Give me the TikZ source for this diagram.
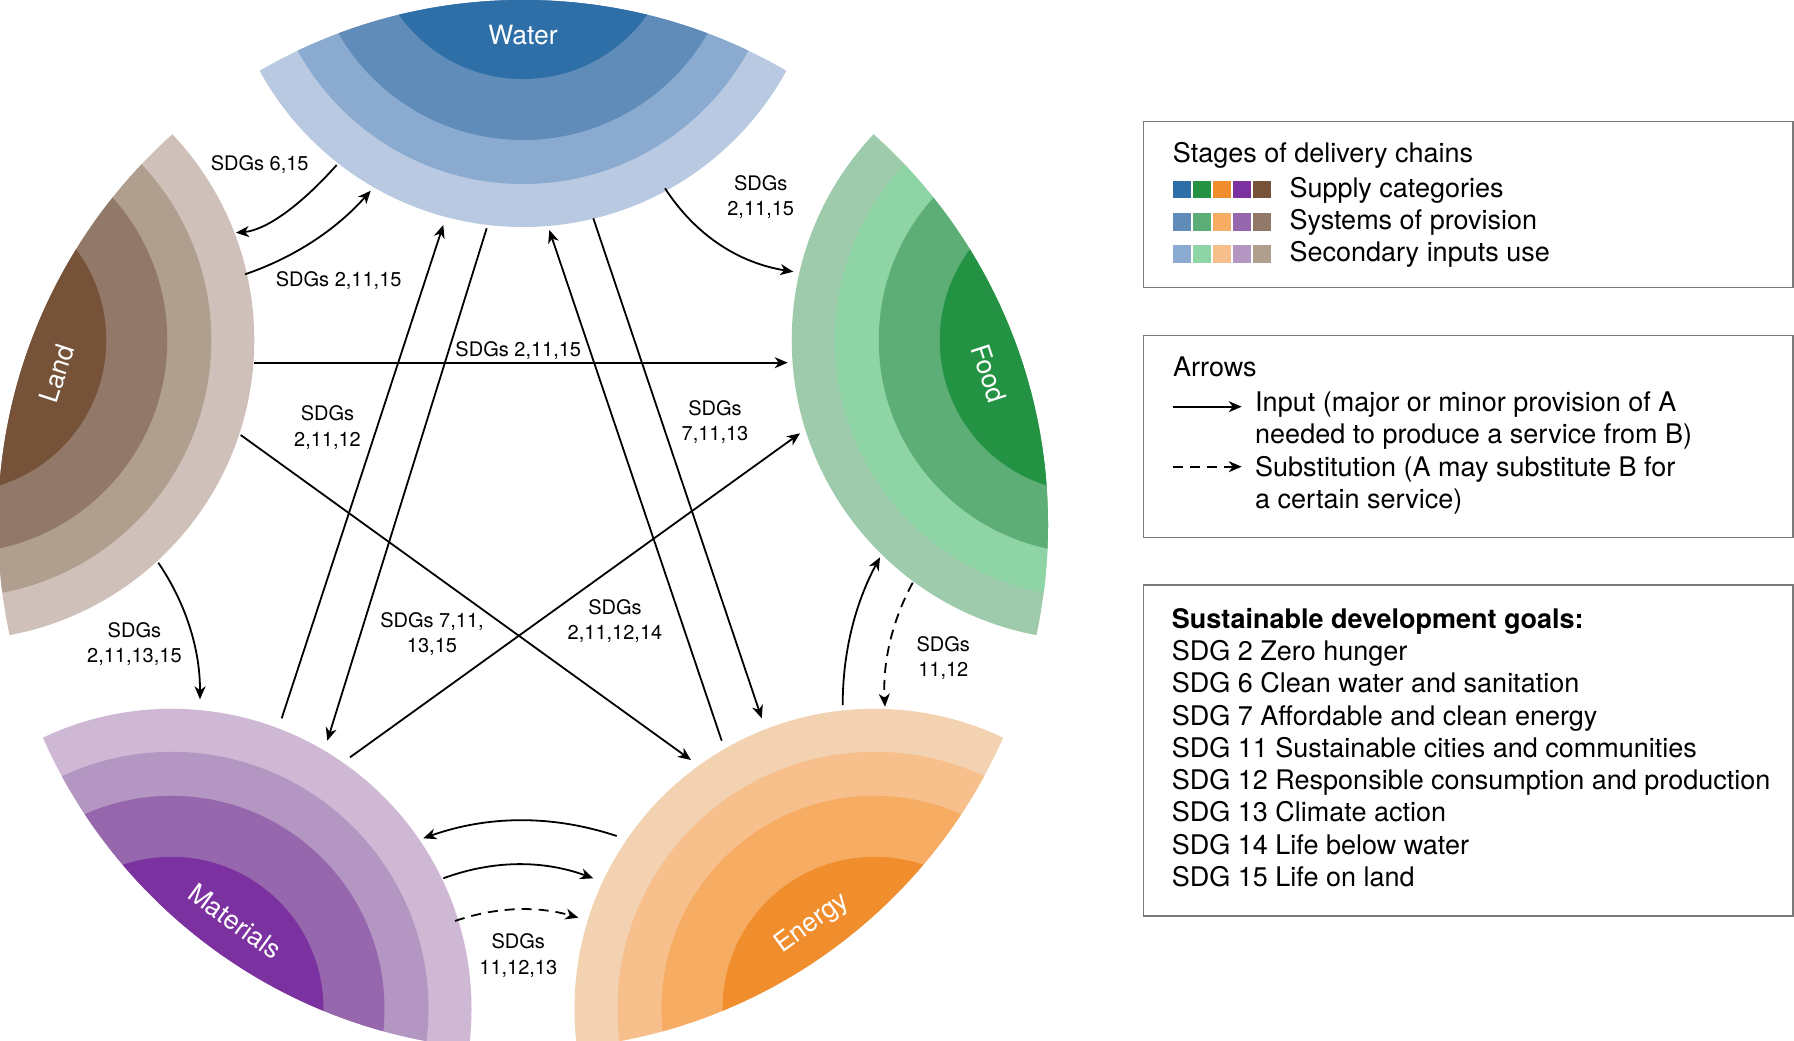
\documentclass[tikz,border=0pt]{standalone}
\usepackage{fontspec}
\setmainfont{TeX Gyre Heros}
\usetikzlibrary{arrows.meta,calc}
\definecolor{WaterA}{HTML}{B8C9E1}
\definecolor{WaterB}{HTML}{8AABCF}
\definecolor{WaterC}{HTML}{5F8CB8}
\definecolor{WaterD}{HTML}{2E6FA8}
\definecolor{FoodA}{HTML}{9DCBAC}
\definecolor{FoodB}{HTML}{8FD4A4}
\definecolor{FoodC}{HTML}{5DAE76}
\definecolor{FoodD}{HTML}{239343}
\definecolor{EnergyA}{HTML}{F2D2B0}
\definecolor{EnergyB}{HTML}{F7BF8C}
\definecolor{EnergyC}{HTML}{F7AC64}
\definecolor{EnergyD}{HTML}{F08D2D}
\definecolor{MatA}{HTML}{CFB8D4}
\definecolor{MatB}{HTML}{B397C2}
\definecolor{MatC}{HTML}{9767AD}
\definecolor{MatD}{HTML}{7B31A0}
\definecolor{LandA}{HTML}{CFC1B9}
\definecolor{LandB}{HTML}{B09E8F}
\definecolor{LandC}{HTML}{917868}
\definecolor{LandD}{HTML}{765338}
\definecolor{boxgray}{HTML}{7A7A7A}
\newcommand{\qarc}[4][arr]{\draw[#1] (#2) .. controls ($(#2)!0.6667!(#3)$) and ($(#4)!0.6667!(#3)$) .. (#4);}
\begin{document}
\begin{tikzpicture}[x=1pt,y=-1pt,
  arr/.style={line width=1.8pt,-{Stealth[length=13pt,width=11pt,inset=4pt]}},
  darr/.style={arr,dash pattern=on 10pt off 7pt},
  lbl/.style={font=\fontsize{20}{25.3}\selectfont,align=center,anchor=base,inner sep=0pt},
  wlbl/.style={text=white,font=\fontsize{26.5}{30}\selectfont,inner sep=0pt,text height=18.9pt,text depth=0pt},
  leg/.style={font=\fontsize{27}{32.3}\selectfont,anchor=base west,inner sep=0pt},
  legbox/.style={draw=boxgray,line width=1.5pt}]
\useasboundingbox (0,0) rectangle (1794,1041);
\clip (0,0) rectangle (1794,1041);
\fill[white] (0,0) rectangle (1794,1041);
\coordinate (O) at (523,525);

% ---------- five wedges ----------
\foreach \nm/\ang/\rot/\col/\txt in {water/-90/0/Water/Water, food/-18/-72/Food/Food, energy/54/36/Energy/Energy, mat/126/-36/Mat/Materials, land/198/72/Land/Land}{
  \coordinate (P-\nm) at ($(O)+(\ang:598)$);
  \begin{scope}
    \clip (O) circle (525);
    \fill[fill=\col A] (P-\nm) circle (300);
    \fill[fill=\col B] (P-\nm) circle (257);
    \fill[fill=\col C] (P-\nm) circle (213);
    \fill[fill=\col D] (P-\nm) circle (152);
  \end{scope}
  \node[wlbl,rotate=\rot] (lab-\nm) at ($(O)+(\ang:490)$) {\txt};
}

% ---------- connector end points ----------
\coordinate (wl-s) at (336.7,165);   \coordinate (wl-q) at (279.5,229);   \coordinate (wl-e) at (236,232.7);
\coordinate (lw-s) at (245,274.3);   \coordinate (lw-q) at (318.9,249.1); \coordinate (lw-e) at (370.7,190.7);
\coordinate (wf-s) at (665,188.3);   \coordinate (wf-q) at (710.6,258.4); \coordinate (wf-e) at (793.3,271.7);
\coordinate (lf-s) at (254,362.7);   \coordinate (lf-e) at (787.7,362.7);
\coordinate (le-s) at (240.7,435);   \coordinate (le-e) at (691,760);
\coordinate (lm-s) at (158.3,562.7); \coordinate (lm-q) at (200.2,624.6); \coordinate (lm-e) at (200,699.3);
\coordinate (mw-s) at (281.7,718.3); \coordinate (mw-e) at (443.3,225);
\coordinate (wm-s) at (486.7,228.3); \coordinate (wm-e) at (327.3,740.7);
\coordinate (mf-s) at (350,757.3);   \coordinate (mf-e) at (800,433.3);
\coordinate (ew-s) at (721.7,740.7); \coordinate (ew-e) at (549.3,230);
\coordinate (we-s) at (593.3,218.3); \coordinate (we-e) at (761.7,718.3);
\coordinate (ef-s) at (842.7,705);   \coordinate (ef-q) at (842.65,626.4); \coordinate (ef-e) at (880,557.3);
\coordinate (fe-s) at (912.7,582.7); \coordinate (fe-q) at (881.3,640.7); \coordinate (fe-e) at (885,706.7);
\coordinate (em-s) at (616.7,836);   \coordinate (em-q) at (520,803.9);   \coordinate (em-e) at (423.3,838.3);
\coordinate (me-s) at (443.3,878.3); \coordinate (me-q) at (518,850.7);   \coordinate (me-e) at (593.3,878.3);
\coordinate (md-s) at (455,921);     \coordinate (md-q) at (516.6,899.7); \coordinate (md-e) at (578.3,917.7);

% ---------- connectors ----------
\qarc{wl-s}{wl-q}{wl-e}
\qarc{lw-s}{lw-q}{lw-e}
\qarc{wf-s}{wf-q}{wf-e}
\qarc{lm-s}{lm-q}{lm-e}
\qarc{ef-s}{ef-q}{ef-e}
\qarc[darr]{fe-s}{fe-q}{fe-e}
\qarc{em-s}{em-q}{em-e}
\qarc{me-s}{me-q}{me-e}
\qarc[darr]{md-s}{md-q}{md-e}
\draw[arr] (lf-s) -- (lf-e);
\draw[arr] (le-s) -- (le-e);
\draw[arr] (mw-s) -- (mw-e);
\draw[arr] (wm-s) -- (wm-e);
\draw[arr] (mf-s) -- (mf-e);
\draw[arr] (ew-s) -- (ew-e);
\draw[arr] (we-s) -- (we-e);

% ---------- connector labels (two-line labels: base = last line) ----------
\node[lbl] (t1) at (259.7,170.7) {SDGs 6,15};
\node[lbl] (t2) at (338.7,286) {SDGs 2,11,15};
\node[lbl] (t3) at (518.3,356.7) {SDGs 2,11,15};
\node[lbl] (t4) at (327.5,446) {SDGs\\2,11,12};
\node[lbl] (t5) at (134.4,662.7) {SDGs\\2,11,13,15};
\node[lbl] (t6) at (432,652.3) {SDGs 7,11,\\13,15};
\node[lbl] (t7) at (615,639.3) {SDGs\\2,11,12,14};
\node[lbl] (t8) at (715,440.7) {SDGs\\7,11,13};
\node[lbl] (t9) at (760.7,215.7) {SDGs\\2,11,15};
\node[lbl] (t10) at (943.3,676.7) {SDGs\\11,12};
\node[lbl] (t11) at (518.3,974) {SDGs\\11,12,13};

% ---------- legend 1 ----------
\draw[legbox] (1143.5,121.7) rectangle (1793,287.7);
\node[leg] (stages) at (1172.7,162.3) {Stages of delivery chains};
\foreach \c [count=\i from 0] in {WaterD,FoodD,EnergyD,MatD,LandD}
  \fill[fill=\c] (1173.3+20*\i,181) rectangle ++(17.3,17.3);
\foreach \c [count=\i from 0] in {WaterC,FoodC,EnergyC,MatC,LandC}
  \fill[fill=\c] (1173.3+20*\i,213.3) rectangle ++(17.3,17.3);
\foreach \c [count=\i from 0] in {WaterB,FoodB,EnergyB,MatB,LandB}
  \fill[fill=\c] (1173.3+20*\i,245.3) rectangle ++(17.3,17.3);
\node[leg] (supply) at (1289.3,197.3) {Supply categories};
\node[leg] (systems) at (1289.3,229.3) {Systems of provision};
\node[leg] (secondary) at (1289.3,261.7) {Secondary inputs use};

% ---------- legend 2 ----------
\draw[legbox] (1143.5,335.7) rectangle (1793,537.3);
\node[leg] (arrows) at (1173,376.7) {Arrows};
\coordinate (la1) at (1173.3,406.7); \coordinate (la2) at (1241.7,406.7);
\draw[arr] (la1) -- (la2);
\node[leg] (input1) at (1255,411.7) {Input (major or minor provision of A};
\node[leg] (input2) at (1255,443.3) {needed to produce a service from B)};
\coordinate (lb1) at (1173.3,466.7); \coordinate (lb2) at (1241.7,466.7);
\draw[darr] (lb1) -- (lb2);
\node[leg] (subst1) at (1255,476) {Substitution (A may substitute B for};
\node[leg] (subst2) at (1255,508.3) {a certain service)};

% ---------- legend 3 ----------
\draw[legbox] (1143.5,585) rectangle (1793,916);
\node[leg,font=\fontsize{27}{32.3}\selectfont\bfseries] (sdgtitle) at (1171.7,628.3) {Sustainable development goals:};
\node[leg] (sdg2) at (1171.7,660.7) {SDG 2 Zero hunger};
\node[leg] (sdg6) at (1171.7,692.7) {SDG 6 Clean water and sanitation};
\node[leg] (sdg7) at (1171.7,725) {SDG 7 Affordable and clean energy};
\node[leg] (sdg11) at (1171.7,757.3) {SDG 11 Sustainable cities and communities};
\node[leg] (sdg12) at (1171.7,789.3) {SDG 12 Responsible consumption and production};
\node[leg] (sdg13) at (1171.7,821.7) {SDG 13 Climate action};
\node[leg] (sdg14) at (1171.7,854) {SDG 14 Life below water};
\node[leg] (sdg15) at (1171.7,886) {SDG 15 Life on land};
\end{tikzpicture}
\end{document}
